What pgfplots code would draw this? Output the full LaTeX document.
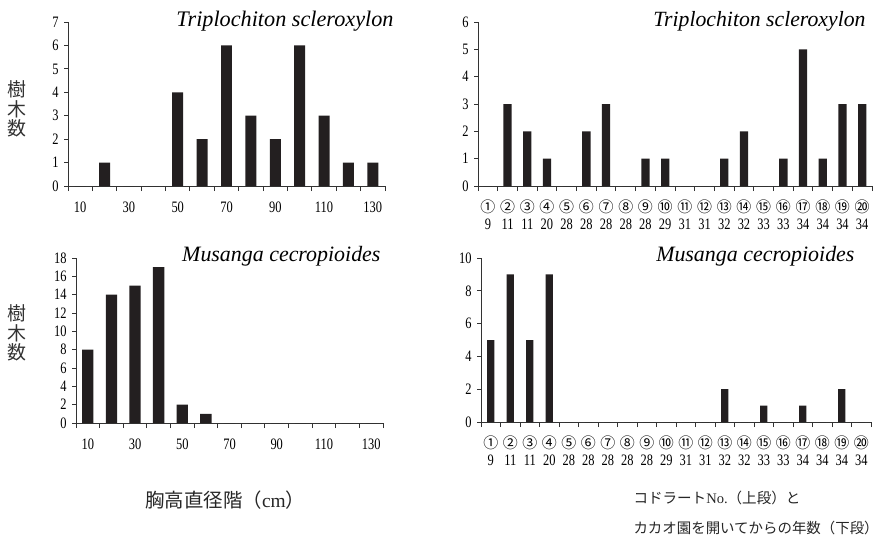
\documentclass[border=0pt]{standalone}
\usepackage{pgfplots}
\pgfplotsset{compat=1.18}
\usepackage{fontspec}
\setmainfont{Liberation Serif}
\newfontfamily\tickfont[FakeStretch=0.78]{Liberation Serif}
\newfontfamily\cjk{Noto Sans CJK JP}
\newcommand\cn[1]{{\cjk\fontsize{15}{17}\selectfont #1}}
\definecolor{barc}{HTML}{231F20}
\definecolor{axc}{HTML}{333333}

\pgfplotsset{
  panel/.style={
    scale only axis,
    anchor=south west,
    axis x line*=bottom, axis y line*=left,
    axis line style={axc, line width=0.9pt, -},
    enlargelimits=false,
    ymin=0,
    tick align=outside,
    major tick length=4bp,
    minor tick length=5bp,
    major x tick style={draw=none},
    minor x tick style={axc, line width=0.9pt},
    y tick style={axc, line width=0.9pt},
    ybar, bar width=0.45,
    /pgf/number format/assume math mode=true,
    tick label style={font=\tickfont\fontsize{16}{17}\selectfont},
    xticklabel style={align=center, yshift=-6bp},
    yticklabel style={xshift=-2bp},
  },
  cbar/.style={fill=barc, draw=none},
}

\begin{document}
\begin{tikzpicture}[x=1bp,y=1bp]
\path[use as bounding box] (0,0) rectangle (881,-539);

% top-left
\begin{axis}[panel, at={(68bp,-186bp)}, width=317bp, height=164bp,
  xmin=0.5, xmax=13.5, ymax=7, ytick={0,...,7},
  xtick={1,...,13}, xticklabels={10,,30,,50,,70,,90,,110,,130},
  xticklabel style={yshift=-2bp},
  minor xtick={0.5,1.5,...,13.5}, bar width=0.45]
\addplot[cbar] coordinates {(1,0) (2,1) (3,0) (4,0) (5,4) (6,2) (7,6) (8,3) (9,2) (10,6) (11,3) (12,1) (13,1)};
\end{axis}

% bottom-left
\begin{axis}[panel, at={(76bp,-423bp)}, width=307bp, height=165bp,
  xmin=0.5, xmax=13.5, ymax=18, ytick={0,2,...,18},
  xtick={1,...,13}, xticklabels={10,,30,,50,,70,,90,,110,,130},
  xticklabel style={yshift=-2bp},
  minor xtick={0.5,1.5,...,13.5}, bar width=0.48]
\addplot[cbar] coordinates {(1,8) (2,14) (3,15) (4,17) (5,2) (6,1) (7,0) (8,0) (9,0) (10,0) (11,0) (12,0) (13,0)};
\end{axis}

% top-right
\begin{axis}[panel, at={(478bp,-186bp)}, width=394bp, height=164bp,
  xmin=0.5, xmax=20.5, ymax=6, ytick={0,...,6},
  xtick={1,...,20},
  xticklabels={{\cn{①}\\9},{\cn{②}\\11},{\cn{③}\\11},{\cn{④}\\20},{\cn{⑤}\\28},{\cn{⑥}\\28},{\cn{⑦}\\28},{\cn{⑧}\\28},{\cn{⑨}\\28},{\cn{⑩}\\29},{\cn{⑪}\\31},{\cn{⑫}\\31},{\cn{⑬}\\32},{\cn{⑭}\\32},{\cn{⑮}\\33},{\cn{⑯}\\33},{\cn{⑰}\\34},{\cn{⑱}\\34},{\cn{⑲}\\34},{\cn{⑳}\\34}},
  minor xtick={0.5,1.5,...,20.5}, bar width=0.42]
\addplot[cbar] coordinates {(1,0) (2,3) (3,2) (4,1) (5,0) (6,2) (7,3) (8,0) (9,1) (10,1) (11,0) (12,0) (13,1) (14,2) (15,0) (16,1) (17,5) (18,1) (19,3) (20,3)};
\end{axis}

% bottom-right
\begin{axis}[panel, at={(481bp,-422bp)}, width=390bp, height=164bp,
  xmin=0.5, xmax=20.5, ymax=10, ytick={0,2,...,10},
  xtick={1,...,20},
  xticklabels={{\cn{①}\\9},{\cn{②}\\11},{\cn{③}\\11},{\cn{④}\\20},{\cn{⑤}\\28},{\cn{⑥}\\28},{\cn{⑦}\\28},{\cn{⑧}\\28},{\cn{⑨}\\28},{\cn{⑩}\\29},{\cn{⑪}\\31},{\cn{⑫}\\31},{\cn{⑬}\\32},{\cn{⑭}\\32},{\cn{⑮}\\33},{\cn{⑯}\\33},{\cn{⑰}\\34},{\cn{⑱}\\34},{\cn{⑲}\\34},{\cn{⑳}\\34}},
  minor xtick={0.5,1.5,...,20.5}, bar width=0.38]
\addplot[cbar] coordinates {(1,5) (2,9) (3,5) (4,9) (5,0) (6,0) (7,0) (8,0) (9,0) (10,0) (11,0) (12,0) (13,2) (14,0) (15,1) (16,0) (17,1) (18,0) (19,2) (20,0)};
\end{axis}

% titles
\node[anchor=base east, font=\fontsize{22.3}{24}\selectfont\itshape] at (397,-27) {Triplochiton scleroxylon};
\node[anchor=base east, font=\fontsize{21.8}{24}\selectfont\itshape] at (869,-27) {Triplochiton scleroxylon};
\node[anchor=base east, font=\fontsize{22}{24}\selectfont\itshape] at (384,-262) {Musanga cecropioides};
\node[anchor=base east, font=\fontsize{22}{24}\selectfont\itshape] at (858,-262) {Musanga cecropioides};

% y labels
\node[align=center, text=black!80, font=\cjk\fontsize{19}{19.5}\selectfont] at (17,-109) {樹\\木\\数};
\node[align=center, text=black!80, font=\cjk\fontsize{19}{19.5}\selectfont] at (17,-333) {樹\\木\\数};

% x labels
\node[anchor=base west, text=black!85, font=\fontsize{19.5}{22}\selectfont] at (142,-507) {{\cjk 胸高直径階（}cm{\cjk ）}};
\node[anchor=base west, text=black!85, font=\fontsize{14.6}{18}\selectfont] at (630,-503) {{\cjk コドラート}No.{\cjk （上段）と}};
\node[anchor=base west, text=black!85, font=\cjk\fontsize{14.5}{18}\selectfont] at (630,-533) {カカオ園を開いてからの年数（下段）};
\end{tikzpicture}
\end{document}
